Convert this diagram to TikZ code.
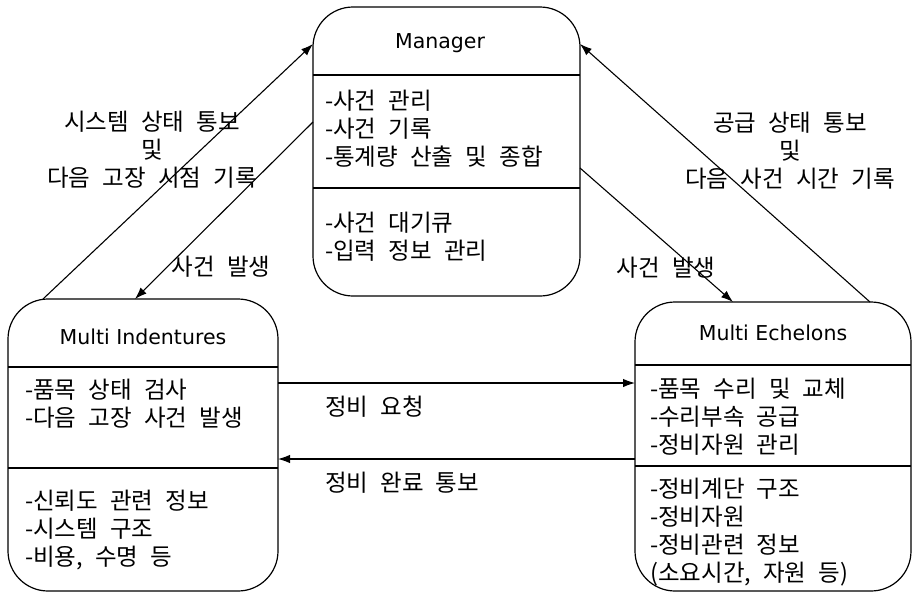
\documentclass[tikz,border=0pt]{standalone}
\usepackage{fontspec}
\newfontfamily\kr[WordSpace=2.3]{Noto Sans CJK KR}
\newfontfamily\lat{DejaVu Sans}
\usetikzlibrary{arrows.meta}
\begin{document}
\begin{tikzpicture}[x=1pt,y=-1pt,
  box/.style={draw=black,line width=1.2pt,rounded corners=40pt,inner sep=0pt,outer sep=0pt},
  divider/.style={draw=black,line width=1.2pt},
  arr/.style={draw=black,line width=1.1pt,-{Latex[length=12pt,width=8.5pt]}},
  ttl/.style={font=\lat\fontsize{20.5}{26}\selectfont,inner sep=0pt},
  txt/.style={font=\kr\fontsize{23.5}{28}\selectfont,align=left,anchor=west,inner sep=0pt},
  lbl/.style={font=\kr\fontsize{23.5}{28}\selectfont,align=center,inner sep=0pt}]
  \useasboundingbox[fill=white] (0,0) rectangle (914,595);
  % boxes
  \node[box,minimum width=267pt,minimum height=289pt] (mgr) at (446.5,151.5) {};
  \node[box,minimum width=270pt,minimum height=292pt] (ind) at (143,445) {};
  \node[box,minimum width=276pt,minimum height=289pt] (ech) at (773,446.5) {};
  % dividers
  \draw[divider] (mgr.west |- 0,75) -- (mgr.east |- 0,75);
  \draw[divider] (mgr.west |- 0,188) -- (mgr.east |- 0,188);
  \draw[divider] (ind.west |- 0,367) -- (ind.east |- 0,367);
  \draw[divider] (ind.west |- 0,468) -- (ind.east |- 0,468);
  \draw[divider] (ech.west |- 0,365) -- (ech.east |- 0,365);
  \draw[divider] (ech.west |- 0,466) -- (ech.east |- 0,466);
  % titles
  \node[ttl] (mgrt) at (440,43) {Manager};
  \node[ttl] (indt) at (143,337) {Multi Indentures};
  \node[ttl] (echt) at (773,333) {Multi Echelons};
  % box texts
  \node[txt] (mgra) at (325,129) {-사건 관리\\-사건 기록\\-통계량 산출 및 종합};
  \node[txt] (mgrb) at (325,236.5) {-사건 대기큐\\-입력 정보 관리};
  \node[txt] (inda) at (25,403.5) {-품목 상태 검사\\-다음 고장 사건 발생};
  \node[txt] (indb) at (25,530) {-신뢰도 관련 정보\\-시스템 구조\\-비용, 수명 등};
  \node[txt] (echa) at (650,417) {-품목 수리 및 교체\\-수리부속 공급\\-정비자원 관리};
  \node[txt] (echb) at (650,532) {-정비계단 구조\\-정비자원\\-정비관련 정보\\(소요시간, 자원 등)};
  % connectors
  \draw[arr] ([xshift=35pt]ind.north west) -- (mgr.west |- 0,44);
  \draw[arr] (mgr.west |- 0,122) -- ([xshift=127pt]ind.north west);
  \draw[arr] (mgr.east |- 0,168) -- ([xshift=98pt]ech.north west);
  \draw[arr] ([xshift=235pt]ech.north west) -- (mgr.east |- 0,44);
  \draw[arr] (ind.east |- 0,383) -- (ech.west |- 0,383);
  \draw[arr] (ech.west |- 0,459) -- (ind.east |- 0,459);
  % labels
  \node[lbl] (l1) at (152,150) {시스템 상태 통보\\및\\다음 고장 시점 기록};
  \node[lbl] (l2) at (221,267) {사건 발생};
  \node[lbl] (l3) at (790,151) {공급 상태 통보\\및\\다음 사건 시간 기록};
  \node[lbl] (l4) at (666,268) {사건 발생};
  \node[lbl,anchor=west] (l5) at (325,407) {정비 요청};
  \node[lbl,anchor=west] (l6) at (325,483) {정비 완료 통보};
\end{tikzpicture}
\end{document}
